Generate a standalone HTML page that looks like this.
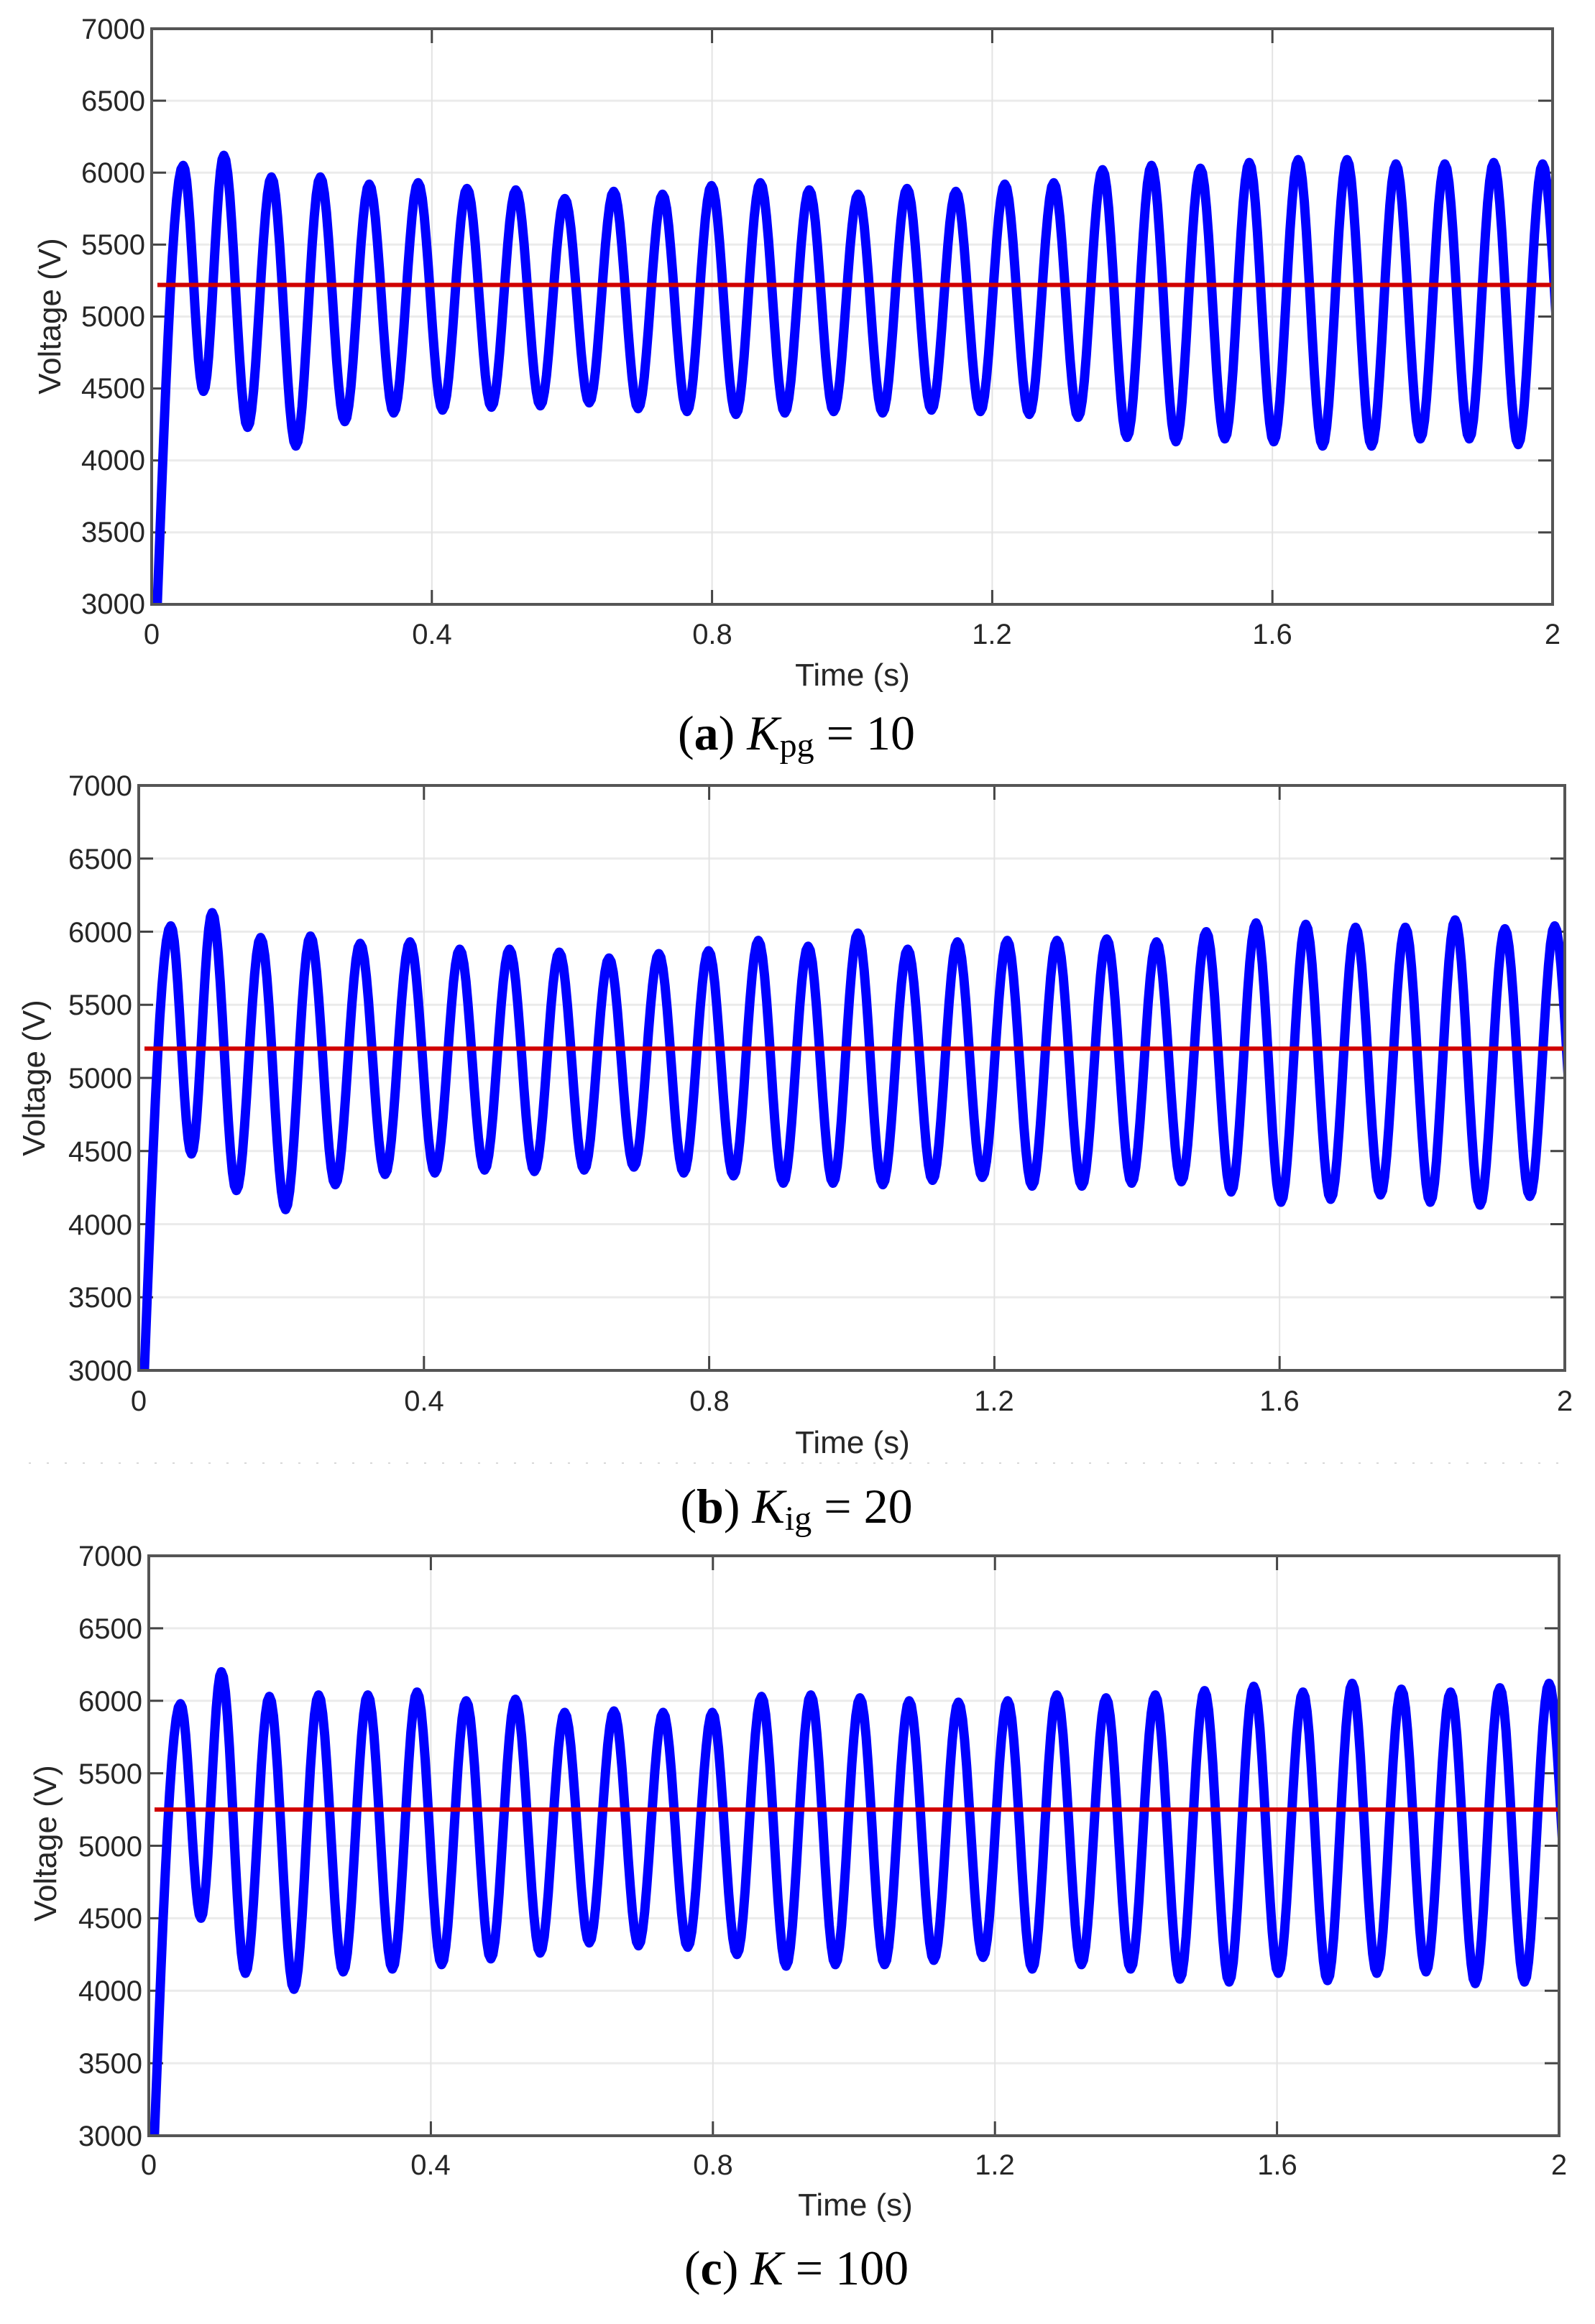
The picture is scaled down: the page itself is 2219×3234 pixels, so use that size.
<!DOCTYPE html>
<html><head><meta charset="utf-8"><style>
html,body{margin:0;padding:0;background:#fff}
svg{display:block}
.tk{font-family:"Liberation Sans",Arial,sans-serif;font-size:40px;fill:#262626}
.yl{font-family:"Liberation Sans",Arial,sans-serif;font-size:44px;fill:#262626}
.cap{font-family:"Liberation Serif","Times New Roman",serif;font-size:68px;fill:#000}
</style></head><body>
<svg id="s" width="2219" height="3234" viewBox="0 0 2219 3234" xmlns="http://www.w3.org/2000/svg">
<rect width="2219" height="3234" fill="#fff"/>
<g id="plots"></g>
<line x1="40" y1="2036" x2="2170" y2="2036" stroke="#d8d8d8" stroke-width="2" stroke-dasharray="3,22"/>

<g class="tk" text-anchor="end">
<text x="202" y="54">7000</text><text x="202" y="154">6500</text><text x="202" y="254">6000</text><text x="202" y="354">5500</text><text x="202" y="454">5000</text><text x="202" y="554">4500</text><text x="202" y="654">4000</text><text x="202" y="754">3500</text><text x="202" y="854">3000</text>
</g>
<g class="tk" text-anchor="middle">
<text x="211" y="896">0</text><text x="601" y="896">0.4</text><text x="991" y="896">0.8</text><text x="1380" y="896">1.2</text><text x="1770" y="896">1.6</text><text x="2160" y="896">2</text>
</g>
<text class="yl" x="1186" y="954" text-anchor="middle">Time (s)</text>
<text class="yl" transform="translate(84,440) rotate(-90)" text-anchor="middle">Voltage (V)</text>
<text class="cap" x="1108" y="1043" text-anchor="middle">(<tspan font-weight="bold">a</tspan>) <tspan font-style="italic">K</tspan><tspan font-size="48" dy="10">pg</tspan><tspan dy="-10"> = 10</tspan></text>

<g class="tk" text-anchor="end">
<text x="184" y="1107">7000</text><text x="184" y="1209">6500</text><text x="184" y="1311">6000</text><text x="184" y="1412">5500</text><text x="184" y="1514">5000</text><text x="184" y="1616">4500</text><text x="184" y="1718">4000</text><text x="184" y="1819">3500</text><text x="184" y="1921">3000</text>
</g>
<g class="tk" text-anchor="middle">
<text x="193" y="1963">0</text><text x="590" y="1963">0.4</text><text x="987" y="1963">0.8</text><text x="1383" y="1963">1.2</text><text x="1780" y="1963">1.6</text><text x="2177" y="1963">2</text>
</g>
<text class="yl" x="1186" y="2022" text-anchor="middle">Time (s)</text>
<text class="yl" transform="translate(62,1500) rotate(-90)" text-anchor="middle">Voltage (V)</text>
<text class="cap" x="1108" y="2119" text-anchor="middle">(<tspan font-weight="bold">b</tspan>) <tspan font-style="italic">K</tspan><tspan font-size="48" dy="10">ig</tspan><tspan dy="-10"> = 20</tspan></text>

<g class="tk" text-anchor="end">
<text x="198" y="2179">7000</text><text x="198" y="2280">6500</text><text x="198" y="2381">6000</text><text x="198" y="2482">5500</text><text x="198" y="2583">5000</text><text x="198" y="2683">4500</text><text x="198" y="2784">4000</text><text x="198" y="2885">3500</text><text x="198" y="2986">3000</text>
</g>
<g class="tk" text-anchor="middle">
<text x="207" y="3026">0</text><text x="599" y="3026">0.4</text><text x="992" y="3026">0.8</text><text x="1384" y="3026">1.2</text><text x="1777" y="3026">1.6</text><text x="2169" y="3026">2</text>
</g>
<text class="yl" x="1190" y="3083" text-anchor="middle">Time (s)</text>
<text class="yl" transform="translate(78,2565) rotate(-90)" text-anchor="middle">Voltage (V)</text>
<text class="cap" x="1108" y="3179" text-anchor="middle">(<tspan font-weight="bold">c</tspan>) <tspan font-style="italic">K</tspan> = 100</text>
</svg>
<script>
(function(){
var NS="http://www.w3.org/2000/svg";
var g=document.getElementById("plots");
function el(n,a){var e=document.createElementNS(NS,n);for(var k in a)e.setAttribute(k,a[k]);g.appendChild(e);return e;}
var P=[
{x0:211,x1:2160,y0:40,y1:841,ref:5220,
pk:[6050,6120,5970,5970,5920,5930,5890,5880,5820,5870,5850,5910,5930,5880,5850,5890,5870,5920,5930,6020,6050,6030,6070,6090,6090,6060,6060,6070,6060],
tr:[4480,4230,4100,4270,4330,4350,4370,4380,4400,4360,4340,4320,4330,4340,4330,4350,4340,4320,4300,4160,4130,4150,4130,4100,4100,4150,4150,4110]},
{x0:193,x1:2177,y0:1093,y1:1907,ref:5200,
pk:[6040,6130,5960,5970,5920,5930,5880,5880,5860,5820,5850,5870,5940,5900,5990,5880,5930,5940,5940,5950,5930,6000,6060,6050,6030,6030,6080,6020,6040],
tr:[4480,4230,4100,4270,4340,4350,4370,4360,4370,4390,4350,4330,4280,4280,4270,4300,4320,4260,4260,4280,4290,4220,4150,4170,4200,4150,4130,4190]},
{x0:207,x1:2169,y0:2165,y1:2972,ref:5250,
pk:[5980,6200,6030,6040,6040,6060,6000,6010,5920,5930,5920,5920,6030,6040,6020,6000,5990,6000,6040,6020,6040,6070,6100,6060,6120,6080,6060,6090,6120],
tr:[4500,4120,4010,4130,4150,4180,4220,4260,4330,4310,4300,4250,4170,4180,4180,4210,4230,4150,4180,4150,4080,4060,4120,4070,4120,4130,4050,4060]}
];
P.forEach(function(p,idx){
 var W=p.x1-p.x0,H=p.y1-p.y0;
 function X(t){return p.x0+t/2*W;} function Y(v){return p.y0+(7000-v)/4000*H;}
 for(var v=3500;v<7000;v+=500){var y=Y(v);el("line",{x1:p.x0,y1:y,x2:p.x1,y2:y,stroke:"#ebebeb","stroke-width":3});
  el("line",{x1:p.x0,y1:y,x2:p.x0+20,y2:y,stroke:"#444","stroke-width":3});
  el("line",{x1:p.x1-20,y1:y,x2:p.x1,y2:y,stroke:"#444","stroke-width":3});}
 for(var i=1;i<5;i++){var x=X(i*0.4);el("line",{x1:x,y1:p.y0,x2:x,y2:p.y1,stroke:"#e3e3e3","stroke-width":2});
  el("line",{x1:x,y1:p.y1-20,x2:x,y2:p.y1,stroke:"#444","stroke-width":3});
  el("line",{x1:x,y1:p.y0,x2:x,y2:p.y0+20,stroke:"#444","stroke-width":3});}
 var ext=[[0.008,3000]];
 function tp(i){return i==0?0.045:(i==1?0.103:0.171+(i-2)*0.0698);}
 for(var i=0;i<29;i++){ext.push([tp(i),p.pk[i]]);
  if(i<28){var tt=(i==0)?0.074:(tp(i)+tp(i+1))/2;ext.push([tt,p.tr[i]]);}}
 ext.push([tp(28)+0.035,4200]);
 var d="";
 for(var k=0;k<ext.length-1;k++){var a=ext[k],b=ext[k+1];
  for(var s=0;s<=12;s++){var f=s/12;var t=a[0]+(b[0]-a[0])*f;
   var sh=(k==0)?Math.sin(Math.PI/2*f):(1-Math.cos(Math.PI*f))/2;
   var v=a[1]+(b[1]-a[1])*sh;
   d+=(d?"L":"M")+X(t).toFixed(1)+" "+Y(v).toFixed(1);}}
 var cp=document.createElementNS(NS,"clipPath");cp.setAttribute("id","c"+idx);
 var r=document.createElementNS(NS,"rect");r.setAttribute("x",p.x0);r.setAttribute("y",p.y0-10);r.setAttribute("width",W);r.setAttribute("height",H+10);cp.appendChild(r);g.appendChild(cp);
 el("path",{d:d,fill:"none",stroke:"#0000ff","stroke-width":13,"stroke-linejoin":"round","clip-path":"url(#c"+idx+")"});
 el("line",{x1:p.x0+8,y1:Y(p.ref),x2:p.x1,y2:Y(p.ref),stroke:"#d00000","stroke-width":6});
 el("rect",{x:p.x0,y:p.y0,width:W,height:H,fill:"none",stroke:"#555","stroke-width":4});
});
})();
</script>
</body></html>
